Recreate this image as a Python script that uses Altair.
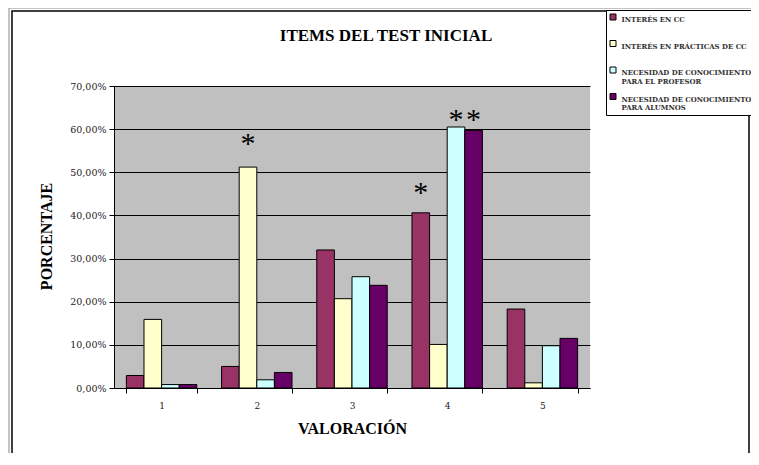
import altair as alt
import pandas as pd

groups = ["1", "2", "3", "4", "5"]
series = [
    "INTERÉS EN CC",
    "INTERÉS EN PRÁCTICAS DE CC",
    "NECESIDAD DE CONOCIMIENTO|PARA EL PROFESOR",
    "NECESIDAD DE CONOCIMIENTO|PARA ALUMNOS",
]
colors = ["#993366", "#FFFFCC", "#CCFFFF", "#660066"]
interes_cc = [2.9, 5.0, 32.0, 40.6, 18.3]
interes_practicas = [15.9, 51.2, 20.7, 10.1, 1.2]
necesidad_profesor = [0.8, 1.9, 25.8, 60.5, 9.8]
necesidad_alumnos = [0.8, 3.6, 23.8, 59.7, 11.5]

star_group = ["2", "4", "4", "4"]
star_series = [series[1], series[0], series[2], series[3]]
star_value = [57.3, 45.9, 62.9, 62.9]

rows = []
for s, vals in zip(series, [interes_cc, interes_practicas, necesidad_profesor, necesidad_alumnos]):
    for g, v in zip(groups, vals):
        rows.append({"grupo": g, "serie": s, "valor": v})
df = pd.DataFrame(rows)
stars = pd.DataFrame({"grupo": star_group, "serie": star_series, "valor": star_value, "t": ["*"] * 4})

W, H = 476, 302
serif = "Liberation Serif"
serif2 = "DejaVu Serif"

xenc = alt.X("grupo:N", sort=groups,
             scale=alt.Scale(paddingInner=0.26, paddingOuter=0.13),
             axis=alt.Axis(title="VALORACIÓN", labelAngle=0, tickBand="extent",
                           domainColor="black", tickColor="black", tickSize=5,
                           labelFont=serif2, labelFontSize=9, labelColor="#222222", labelPadding=8,
                           titleFont=serif, titleFontSize=16, titleFontWeight="bold",
                           titleColor="black", titlePadding=10, grid=False))
xoff = alt.XOffset("serie:N", sort=series, scale=alt.Scale(paddingInner=0, paddingOuter=0))

bars = alt.Chart(df).mark_bar(stroke="black", strokeWidth=1).encode(
    x=xenc,
    xOffset=xoff,
    y=alt.Y("valor:Q", scale=alt.Scale(domain=[0, 70], nice=False),
            axis=alt.Axis(title="PORCENTAJE", values=[0, 10, 20, 30, 40, 50, 60, 70],
                          labelExpr="replace(format(datum.value, '.2f'), '.', ',') + '%'",
                          domainColor="black", tickColor="black", tickSize=5,
                          gridColor="black", gridWidth=1, gridOpacity=1,
                          labelFont=serif2, labelFontSize=9.5, labelColor="#222222", labelPadding=3,
                          titleFont=serif, titleFontSize=16, titleFontWeight="bold",
                          titleColor="black", titleX=-60, titleY=150, titleAngle=270)),
    color=alt.Color("serie:N", sort=series, scale=alt.Scale(domain=series, range=colors),
                    legend=alt.Legend(title=None, orient="none", legendX=492, legendY=-76,
                                      symbolType="square", symbolSize=36, symbolStrokeColor="black",
                                      symbolStrokeWidth=1, symbolOpacity=1,
                                      labelExpr="split(datum.label, '|')",
                                      labelFont=serif2, labelFontSize=6.9, labelFontWeight="bold",
                                      labelColor="#333333", labelLimit=200, labelOffset=5,
                                      rowPadding=5.5, padding=3.5, strokeColor="black", gridAlign="all",
                                      fillColor="white", labelBaseline="top")),
)

star_text = alt.Chart(stars).mark_text(font=serif, fontSize=30, color="black", baseline="middle", dy=3).encode(
    x=alt.X("grupo:N", sort=groups),
    xOffset=alt.XOffset("serie:N", sort=series),
    y=alt.Y("valor:Q"),
    text="t:N",
)

title = alt.Chart(pd.DataFrame({"t": ["ITEMS DEL TEST INICIAL"]})).mark_text(
    font=serif, fontSize=17, fontWeight="bold", color="black", baseline="middle", align="center"
).encode(x=alt.value(272), y=alt.value(-50), text="t:N")

border = alt.Chart(pd.DataFrame({"a": [0]})).mark_rect(fill=None, stroke="black", strokeWidth=1.5).encode(
    x=alt.value(-102), x2=alt.value(635), y=alt.value(-75), y2=alt.value(420),
)
border2 = alt.Chart(pd.DataFrame({"a": [0]})).mark_rect(fill=None, stroke="#888888", strokeWidth=1).encode(
    x=alt.value(-105), x2=alt.value(660), y=alt.value(-78), y2=alt.value(423),
)

chart = alt.layer(border2, border, bars, star_text, title).properties(
    width=W, height=H,
    autosize=alt.AutoSizeParams(type="none"),
    padding={"left": 106, "top": 78, "right": 161, "bottom": 65},
).configure(background="white").configure_view(fill="#C0C0C0", stroke=None)

chart.save("out.html", embed_options={"renderer": "svg", "actions": False})
